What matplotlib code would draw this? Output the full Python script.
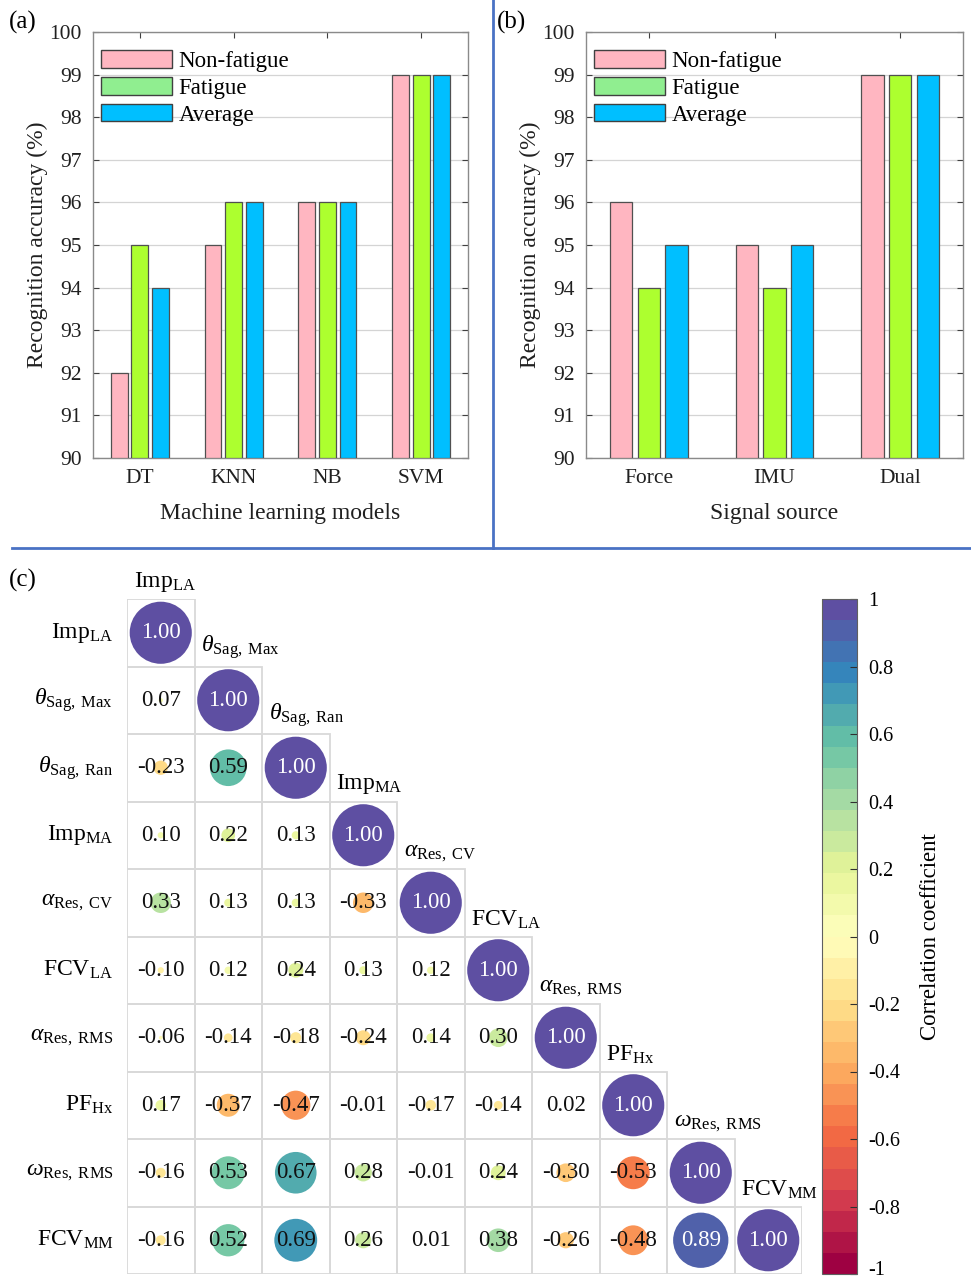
import numpy as np
import matplotlib
matplotlib.use("Agg")
import matplotlib.pyplot as plt
import matplotlib.transforms as mtransforms
from matplotlib.patches import Patch, Circle, Rectangle
from matplotlib.lines import Line2D
from matplotlib.colors import ListedColormap, Normalize
from matplotlib.cm import ScalarMappable

plt.rcParams["font.family"] = ["Liberation Serif", "DejaVu Serif"]
plt.rcParams["mathtext.fontset"] = "custom"
plt.rcParams["mathtext.rm"] = "Liberation Serif"
plt.rcParams["mathtext.it"] = "Liberation Serif:italic"

# ---- data: panel (a) ----
models = ["DT", "KNN", "NB", "SVM"]
nonfat_a = [92, 95, 96, 99]
fat_a = [95, 96, 96, 99]
avg_a = [94, 96, 96, 99]

# ---- data: panel (b) ----
sources = ["Force", "IMU", "Dual"]
nonfat_b = [96, 95, 99]
fat_b = [94, 94, 99]
avg_b = [95, 95, 99]

series_names = ["Non-fatigue", "Fatigue", "Average"]

# ---- data: panel (c), lower triangle rows (diagonal = 1.00) ----
features = [
    r"Imp$_{\mathrm{LA}}$",
    r"$\theta_{\mathrm{Sag,\ Max}}$",
    r"$\theta_{\mathrm{Sag,\ Ran}}$",
    r"Imp$_{\mathrm{MA}}$",
    r"$\alpha_{\mathrm{Res,\ CV}}$",
    r"FCV$_{\mathrm{LA}}$",
    r"$\alpha_{\mathrm{Res,\ RMS}}$",
    r"PF$_{\mathrm{Hx}}$",
    r"$\omega_{\mathrm{Res,\ RMS}}$",
    r"FCV$_{\mathrm{MM}}$",
]
corr_rows = [
    [],
    [0.07],
    [-0.23, 0.59],
    [0.10, 0.22, 0.13],
    [0.33, 0.13, 0.13, -0.33],
    [-0.10, 0.12, 0.24, 0.13, 0.12],
    [-0.06, -0.14, -0.18, -0.24, 0.14, 0.30],
    [0.17, -0.37, -0.47, -0.01, -0.17, -0.14, 0.02],
    [-0.16, 0.53, 0.67, 0.28, -0.01, 0.24, -0.30, -0.53],
    [-0.16, 0.52, 0.69, 0.26, 0.01, 0.38, -0.26, -0.48, 0.89],
]
cbar_ticks = [-1, -0.8, -0.6, -0.4, -0.2, 0, 0.2, 0.4, 0.6, 0.8, 1]
cbar_labels = ["-1", "-0.8", "-0.6", "-0.4", "-0.2", "0", "0.2", "0.4", "0.6", "0.8", "1"]

bar_colors = ["#FFB6C1", "#ADFF2F", "#00BFFF"]
legend_colors = ["#FFB6C1", "#90EE90", "#00BFFF"]

W, H = 971, 1282
fig = plt.figure(figsize=(W / 100, H / 100), dpi=100)


def px_axes(x0, y0, x1, y1):
    return fig.add_axes([x0 / W, 1 - y1 / H, (x1 - x0) / W, (y1 - y0) / H])


def bar_panel(ax, cats, vals, xlabel):
    x = np.arange(1, len(cats) + 1)
    for k, (v, c) in enumerate(zip(vals, bar_colors)):
        ax.bar(x + (k - 1) * 0.22, np.array(v) - 90, bottom=90, width=0.18,
               color=c, edgecolor="#505050", linewidth=0.9, zorder=3)
    ax.set_xlim(0.5, len(cats) + 0.5)
    ax.set_ylim(90, 100)
    ax.set_yticks(range(90, 101))
    ax.set_xticks(x)
    ax.set_xticklabels(cats)
    ax.tick_params(direction="in", length=4, labelsize=15.5, top=True, right=True,
                   color="#404040", labelcolor="#202020")
    ax.tick_params(axis="y", pad=8)
    ax.tick_params(axis="x", pad=8)
    ax.grid(axis="y", color="#d4d4d4", linewidth=0.9, zorder=0)
    for s in ax.spines.values():
        s.set_color("#8a8a8a")
        s.set_linewidth(1.0)
    ax.set_ylabel("Recognition accuracy (%)", fontsize=17, labelpad=1, color="#202020")
    ax.set_xlabel(xlabel, fontsize=17, labelpad=11, color="#202020")
    handles = [Patch(facecolor=c, edgecolor="#404040", linewidth=1.0) for c in legend_colors]
    ax.legend(handles, series_names, loc="upper left", bbox_to_anchor=(0.02, 0.957),
              frameon=False, fontsize=16.5, handlelength=3.1, handleheight=0.8,
              handletextpad=0.3, labelspacing=0.22, borderpad=0, borderaxespad=0)


ax_a = px_axes(93, 32, 468, 458)
bar_panel(ax_a, models, [nonfat_a, fat_a, avg_a], "Machine learning models")
ax_b = px_axes(586, 32, 963, 458)
bar_panel(ax_b, sources, [nonfat_b, fat_b, avg_b], "Signal source")

fig.text(9 / W, 1 - 22 / H, "(a)", fontsize=18, va="center", ha="left")
fig.text(497 / W, 1 - 22 / H, "(b)", fontsize=18, va="center", ha="left")
fig.text(9 / W, 1 - 580 / H, "(c)", fontsize=18, va="center", ha="left")

# separator lines
sep = "#4a72c4"
fig.add_artist(Line2D([493 / W, 493 / W], [1 - 548 / H, 1.0], color=sep, linewidth=2,
                      transform=fig.transFigure))
fig.add_artist(Line2D([12 / W, 1.0], [1 - 548 / H, 1 - 548 / H], color=sep, linewidth=2,
                      transform=fig.transFigure))

# ---- panel (c) ----
cmap = ListedColormap(plt.get_cmap("Spectral")(np.linspace(0, 1, 32)))
norm = Normalize(-1, 1)
n = len(features)
ax_c = px_axes(127, 599, 802, 1274)
ax_c.set_xlim(0, n)
ax_c.set_ylim(n, 0)
ax_c.axis("off")

for i in range(n):
    row = list(corr_rows[i]) + [1.0]
    for j, r in enumerate(row):
        ax_c.add_patch(Rectangle((j, i), 1, 1, facecolor="none", edgecolor="#d9d9d9",
                                 linewidth=1.3, zorder=1))
        ax_c.add_patch(Circle((j + 0.5, i + 0.5), 0.46 * abs(r), facecolor=cmap(norm(r)),
                              edgecolor="none", zorder=2))
        ax_c.text(j + 0.5, i + 0.5, f"{r:.2f}", ha="center", va="center", fontsize=16.5,
                  color="white" if abs(r) >= 0.8 else "#111111", zorder=3)
    ax_c.text(-0.2, i + 0.5, features[i], ha="right", va="center", fontsize=17)
    ax_c.text(i + 0.1, i - 0.08, features[i], ha="left", va="bottom", fontsize=17)

cax = px_axes(822, 599, 857, 1274)
cb = fig.colorbar(ScalarMappable(norm=norm, cmap=cmap), cax=cax)
cb.set_ticks(cbar_ticks)
cb.set_ticklabels(cbar_labels)
cb.ax.tick_params(direction="in", length=5, labelsize=14.5, color="#303030", pad=8)
cb.outline.set_edgecolor("#606060")
cb.set_label("Correlation coefficient", fontsize=16.5, labelpad=14)

# keep the bottom "-1" label inside the figure
bottom_lbl = cb.ax.get_yticklabels()[0]
bottom_lbl.set_transform(bottom_lbl.get_transform() +
                         mtransforms.ScaledTranslation(0, 4 / 72, fig.dpi_scale_trans))

fig.savefig("out.png", dpi=100)
